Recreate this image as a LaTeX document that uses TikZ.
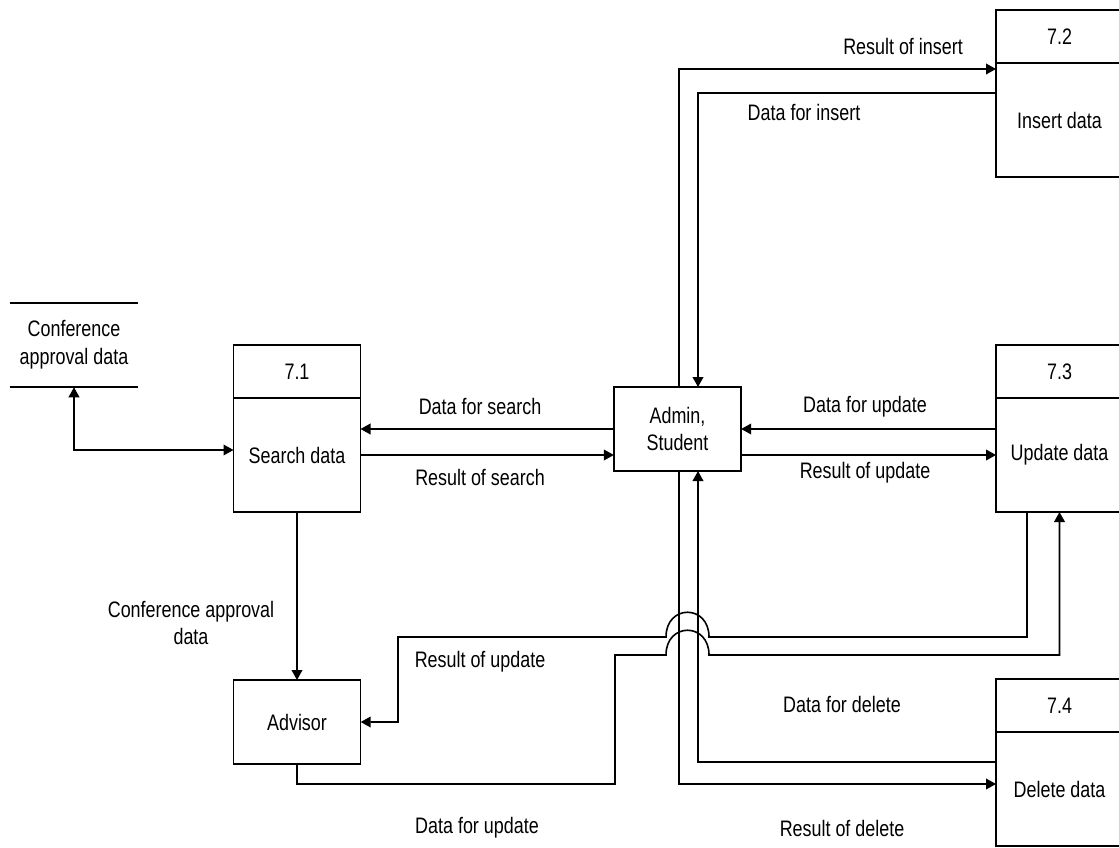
\documentclass[tikz,border=0pt]{standalone}
\usepackage{fontspec}
\setmainfont{Liberation Sans}
\newfontfamily\dfdfont[FakeStretch=0.8]{Liberation Sans}
\usetikzlibrary{arrows.meta,positioning}
\tikzstyle{box}=[draw,rectangle,line width=1.2pt,outer sep=0pt,align=center,minimum width=95.25pt,font=\dfdfont\fontsize{16.8}{20.5}\selectfont]
\tikzstyle{proc id}=[box,minimum height=39.75pt]
\tikzstyle{proc body}=[box,minimum height=85.5pt]
\tikzstyle{entity}=[box,minimum width=95.5pt,minimum height=63pt]
\tikzstyle{store}=[rectangle,align=center,minimum width=96pt,minimum height=63pt,font=\dfdfont\fontsize{16.8}{21}\selectfont]
\tikzstyle{flow}=[draw,line width=1.2pt,->]
\tikzstyle{flow label}=[align=center,font=\dfdfont\fontsize{16.8}{20.5}\selectfont]

\begin{document}
\begin{tikzpicture}[x=0.75pt,y=-0.75pt,>={Triangle[length=7.5pt,width=8pt]}]
    \useasboundingbox (0,0) rectangle (1119,848);
    % Processes: number on top, name below
    \foreach \pos/\name/\num/\txt in {{(297,371.5)/p71/7.1/Search data}, {(1059.5,36.5)/p72/7.2/Insert data}, {(1059.5,371.5)/p73/7.3/Update data}, {(1059.5,705.5)/p74/7.4/Delete data}}
    {
        \node[proc id] (id\name) at \pos {\num};
        \node[proc body, below=0pt of id\name] (\name) {\txt};
    }

    % External entities and the data store
    \node[entity] (admin) at (677.5,429) {Admin,\\Student};
    \node[entity] (advisor) at (297,722) {Advisor};
    \node[store] (cad) at (74,345) {Conference\\approval data};
    \draw[line width=1.2pt] (cad.north west) -- (cad.north east);
    \draw[line width=1.2pt] (cad.south west) -- (cad.south east);

    % the two lanes running past Admin, Student
    \coordinate (laneA) at (679,0);
    \coordinate (laneB) at (698,0);

    % Flows
    \draw[flow,<->] (cad.south) |- ([yshift=3.75pt]p71.west);
    \draw[flow] (admin.west) -- (admin.west -| p71.east);
    \draw[flow] (p71.east) -- (p71.east -| admin.west);
    \draw[flow] (p73.west |- admin.east) -- (admin.east);
    \draw[flow] (p73.west -| admin.east) -- (p73.west);
    \draw[flow] (admin.north -| laneA) |- ([yshift=-4.5pt]p72.north west);
    \draw[flow] ([yshift=-22.5pt]p72.north west) -| (admin.north -| laneB);
    \draw[flow] ([yshift=-22.5pt]p74.north west) -| (admin.south -| laneB);
    \draw[flow] (admin.south -| laneA) |- ([yshift=-39pt]p74.north west);
    \draw[flow] (p71.south) -- (advisor.north);
    \draw[flow] ([xshift=23.25pt]p73.south west) |- (709,637) .. controls (709,604) and (666,604) .. (666,637) -- (398,637) |- (advisor.east);
    \draw[flow] (advisor.south) |- (615,784) -- (615,655) -- (666,655) .. controls (666,622) and (709,622) .. (709,655) -| (p73.south);

    % Flow labels
    \node[flow label] (lri) at (903,46) {Result of insert};
    \node[flow label] (ldi) at (804,112) {Data for insert};
    \node[flow label] (lds) at (480,406) {Data for search};
    \node[flow label] (lrs) at (480,477) {Result of search};
    \node[flow label] (ldu) at (865,407) {Data for update};
    \node[flow label] (lru) at (865,473) {Result of update};
    \node[flow label] (lca) at (191,623) {Conference approval\\data};
    \node[flow label] (lru2) at (480,662) {Result of update};
    \node[flow label] (ldd) at (842,704) {Data for delete};
    \node[flow label] (lrd) at (842,828) {Result of delete};
    \node[flow label] (ldu2) at (477,828) {Data for update};
\end{tikzpicture}
\end{document}
